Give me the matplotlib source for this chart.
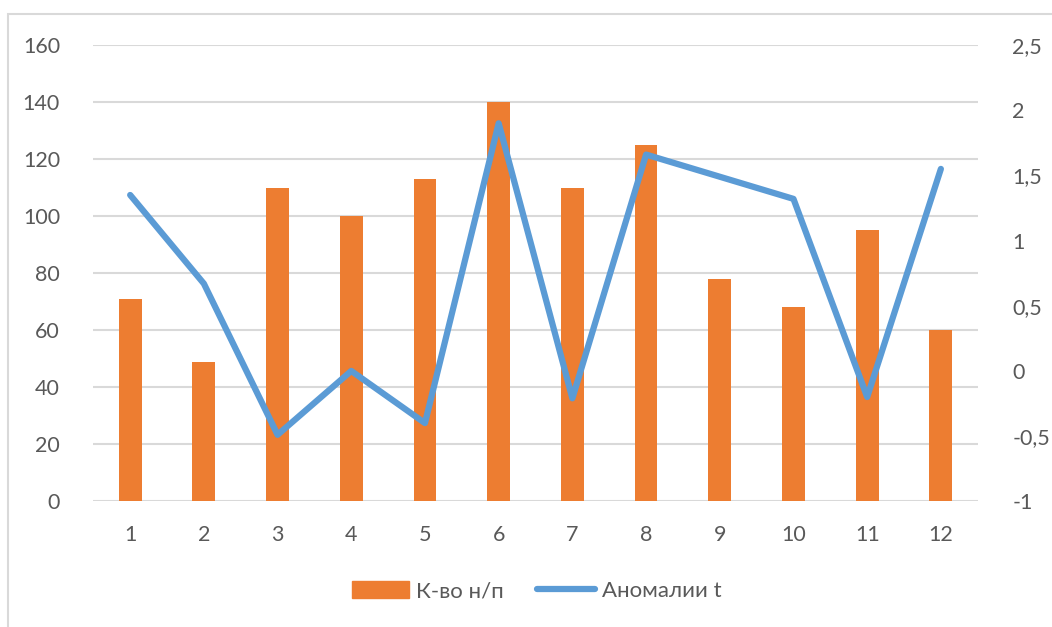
import numpy as np
import matplotlib
matplotlib.use('Agg')
import matplotlib.pyplot as plt
from matplotlib.patches import Rectangle
from matplotlib.lines import Line2D
from matplotlib.ticker import FuncFormatter

plt.rcParams['font.family'] = ['Lato', 'DejaVu Sans']

# monthly data
months = [1, 2, 3, 4, 5, 6, 7, 8, 9, 10, 11, 12]
count_np = [71, 49, 110, 100, 113, 140, 110, 125, 78, 68, 95, 60]
anomaly_t = [1.35, 0.67, -0.49, 0.0, -0.40, 1.90, -0.21, 1.66, 1.49, 1.32, -0.20, 1.55]

bar_color = '#ED7D31'
line_color = '#5B9BD5'
text_color = '#595959'
grid_color = '#D9D9D9'

fig = plt.figure(figsize=(10.52, 6.27), dpi=100)
ax = fig.add_axes([0.0887, 0.2005, 0.8407, 0.7276])
ax2 = ax.twinx()

x = np.arange(len(months))
ax.bar(x, count_np, width=0.31, color=bar_color, zorder=2)
ax.set_ylim(0, 160)
ax.set_yticks(np.arange(0, 161, 20))
ax.set_xlim(-0.5, len(months) - 0.5)
ax.set_xticks(x)
ax.set_xticklabels([str(m) for m in months])
ax.yaxis.grid(True, color=grid_color, linewidth=1.5)
ax.set_axisbelow(True)

ax2.plot(x, anomaly_t, color=line_color, linewidth=4.5, solid_capstyle='round',
         solid_joinstyle='round', zorder=3)
ax2.set_ylim(-1, 2.5)
ax2.set_yticks(np.arange(-1, 2.51, 0.5))
ax2.yaxis.set_major_formatter(FuncFormatter(lambda v, p: ('%g' % v).replace('.', ',')))

for a in (ax, ax2):
    for s in a.spines.values():
        s.set_visible(False)
    a.tick_params(length=0, labelsize=15.5, colors=text_color)
ax.tick_params(axis='y', pad=24)
ax.tick_params(axis='x', pad=17)
ax2.tick_params(axis='y', pad=25)

# frame around the chart area
fig.patches.append(Rectangle((8 / 1052, -0.1), 1.2, 1 - 14 / 627 + 0.1,
                             transform=fig.transFigure, fill=False,
                             edgecolor='#D9D9D9', linewidth=1.5))

handles = [Rectangle((0, 0), 1, 1, color=bar_color),
           Line2D([0], [0], color=line_color, linewidth=4.5, solid_capstyle='round')]
fig.legend(handles, ['К-во н/п', 'Аномалии t'], loc='center', bbox_to_anchor=(0.51, 0.057),
           ncol=2, frameon=False, fontsize=16, labelcolor=text_color,
           handlelength=2.6, handleheight=0.75, handletextpad=0.3, columnspacing=1.5)

fig.savefig('out.png', dpi=100)
